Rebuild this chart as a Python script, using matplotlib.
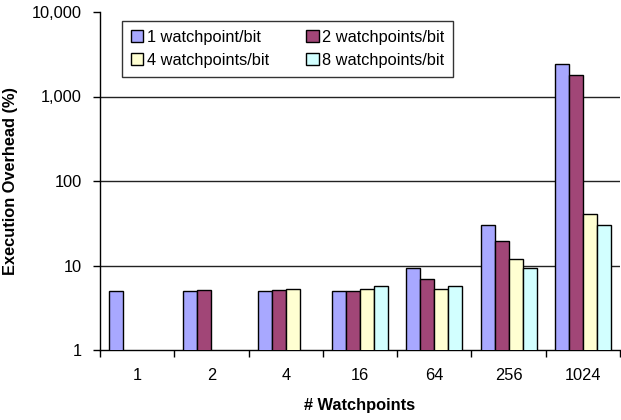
import matplotlib
matplotlib.use("Agg")
import matplotlib.pyplot as plt
import numpy as np
from matplotlib.ticker import FixedLocator, NullLocator

plt.rcParams['font.family'] = ['Liberation Sans', 'DejaVu Sans']

categories = ["1", "2", "4", "16", "64", "256", "1024"]
series_names = ["1 watchpoint/bit", "2 watchpoints/bit", "4 watchpoints/bit", "8 watchpoints/bit"]
wp1 = [5.0, 5.0, 5.0, 5.0, 9.3, 30.0, 2420]
wp2 = [np.nan, 5.1, 5.1, 5.05, 7.0, 19.5, 1780]
wp4 = [np.nan, np.nan, 5.3, 5.2, 5.2, 11.8, 41]
wp8 = [np.nan, np.nan, np.nan, 5.7, 5.7, 9.3, 30.5]
colors = ["#A8A8FF", "#A14677", "#FFFFD2", "#D2FFFF"]

FS = 11.8

fig = plt.figure(figsize=(6.21, 4.2), dpi=100)
ax = fig.add_axes([100/621, 70/420, 520/621, 338/420])

x = np.arange(len(categories))
w = 0.188
handles = []
for i, (vals, c, name) in enumerate(zip([wp1, wp2, wp4, wp8], colors, series_names)):
    h = ax.bar(x + (i - 1.5) * w, vals, width=w, color=c, edgecolor="black",
               linewidth=1.0, label=name, zorder=3)
    handles.append(h)

ax.set_yscale("log")
ax.set_ylim(1, 10000)
ax.set_xlim(-0.5, len(categories) - 0.5)
yt = [1, 10, 100, 1000, 10000]
ax.yaxis.set_major_locator(FixedLocator(yt))
ax.yaxis.set_minor_locator(NullLocator())
ax.set_yticklabels(["1", "10", "100", "1,000", "10,000"], fontsize=FS)
for v in [10, 100, 1000]:
    ax.axhline(v, color="#222222", linewidth=1.0, zorder=1)

ax.set_xticks(x)
ax.set_xticklabels(categories, fontsize=FS)
ax.tick_params(axis="x", length=0, pad=13)
ax.set_xticks(np.arange(len(categories) + 1) - 0.5, minor=True)
ax.tick_params(axis="x", which="minor", length=5, direction="out", width=1)
ax.tick_params(axis="y", length=5, direction="out", width=1, pad=8)

for s in ["top", "right"]:
    ax.spines[s].set_visible(False)
for s in ["left", "bottom"]:
    ax.spines[s].set_linewidth(1.0)

ax.set_ylabel("Execution Overhead (%)", fontsize=FS, fontweight="bold", labelpad=10)
ax.set_xlabel("# Watchpoints", fontsize=FS, fontweight="bold", labelpad=11)

order = [0, 2, 1, 3]
leg = ax.legend([handles[k] for k in order], [series_names[k] for k in order],
                ncol=2, loc="upper left", bbox_to_anchor=(22/520, 1 - 9/338),
                fontsize=FS, frameon=True, fancybox=False, edgecolor="black",
                handlelength=0.75, handleheight=0.75, handletextpad=0.2,
                columnspacing=2.3, borderpad=0.55, labelspacing=0.5, borderaxespad=0)
leg.get_frame().set_linewidth(1.0)

fig.savefig("out.png", dpi=100)
